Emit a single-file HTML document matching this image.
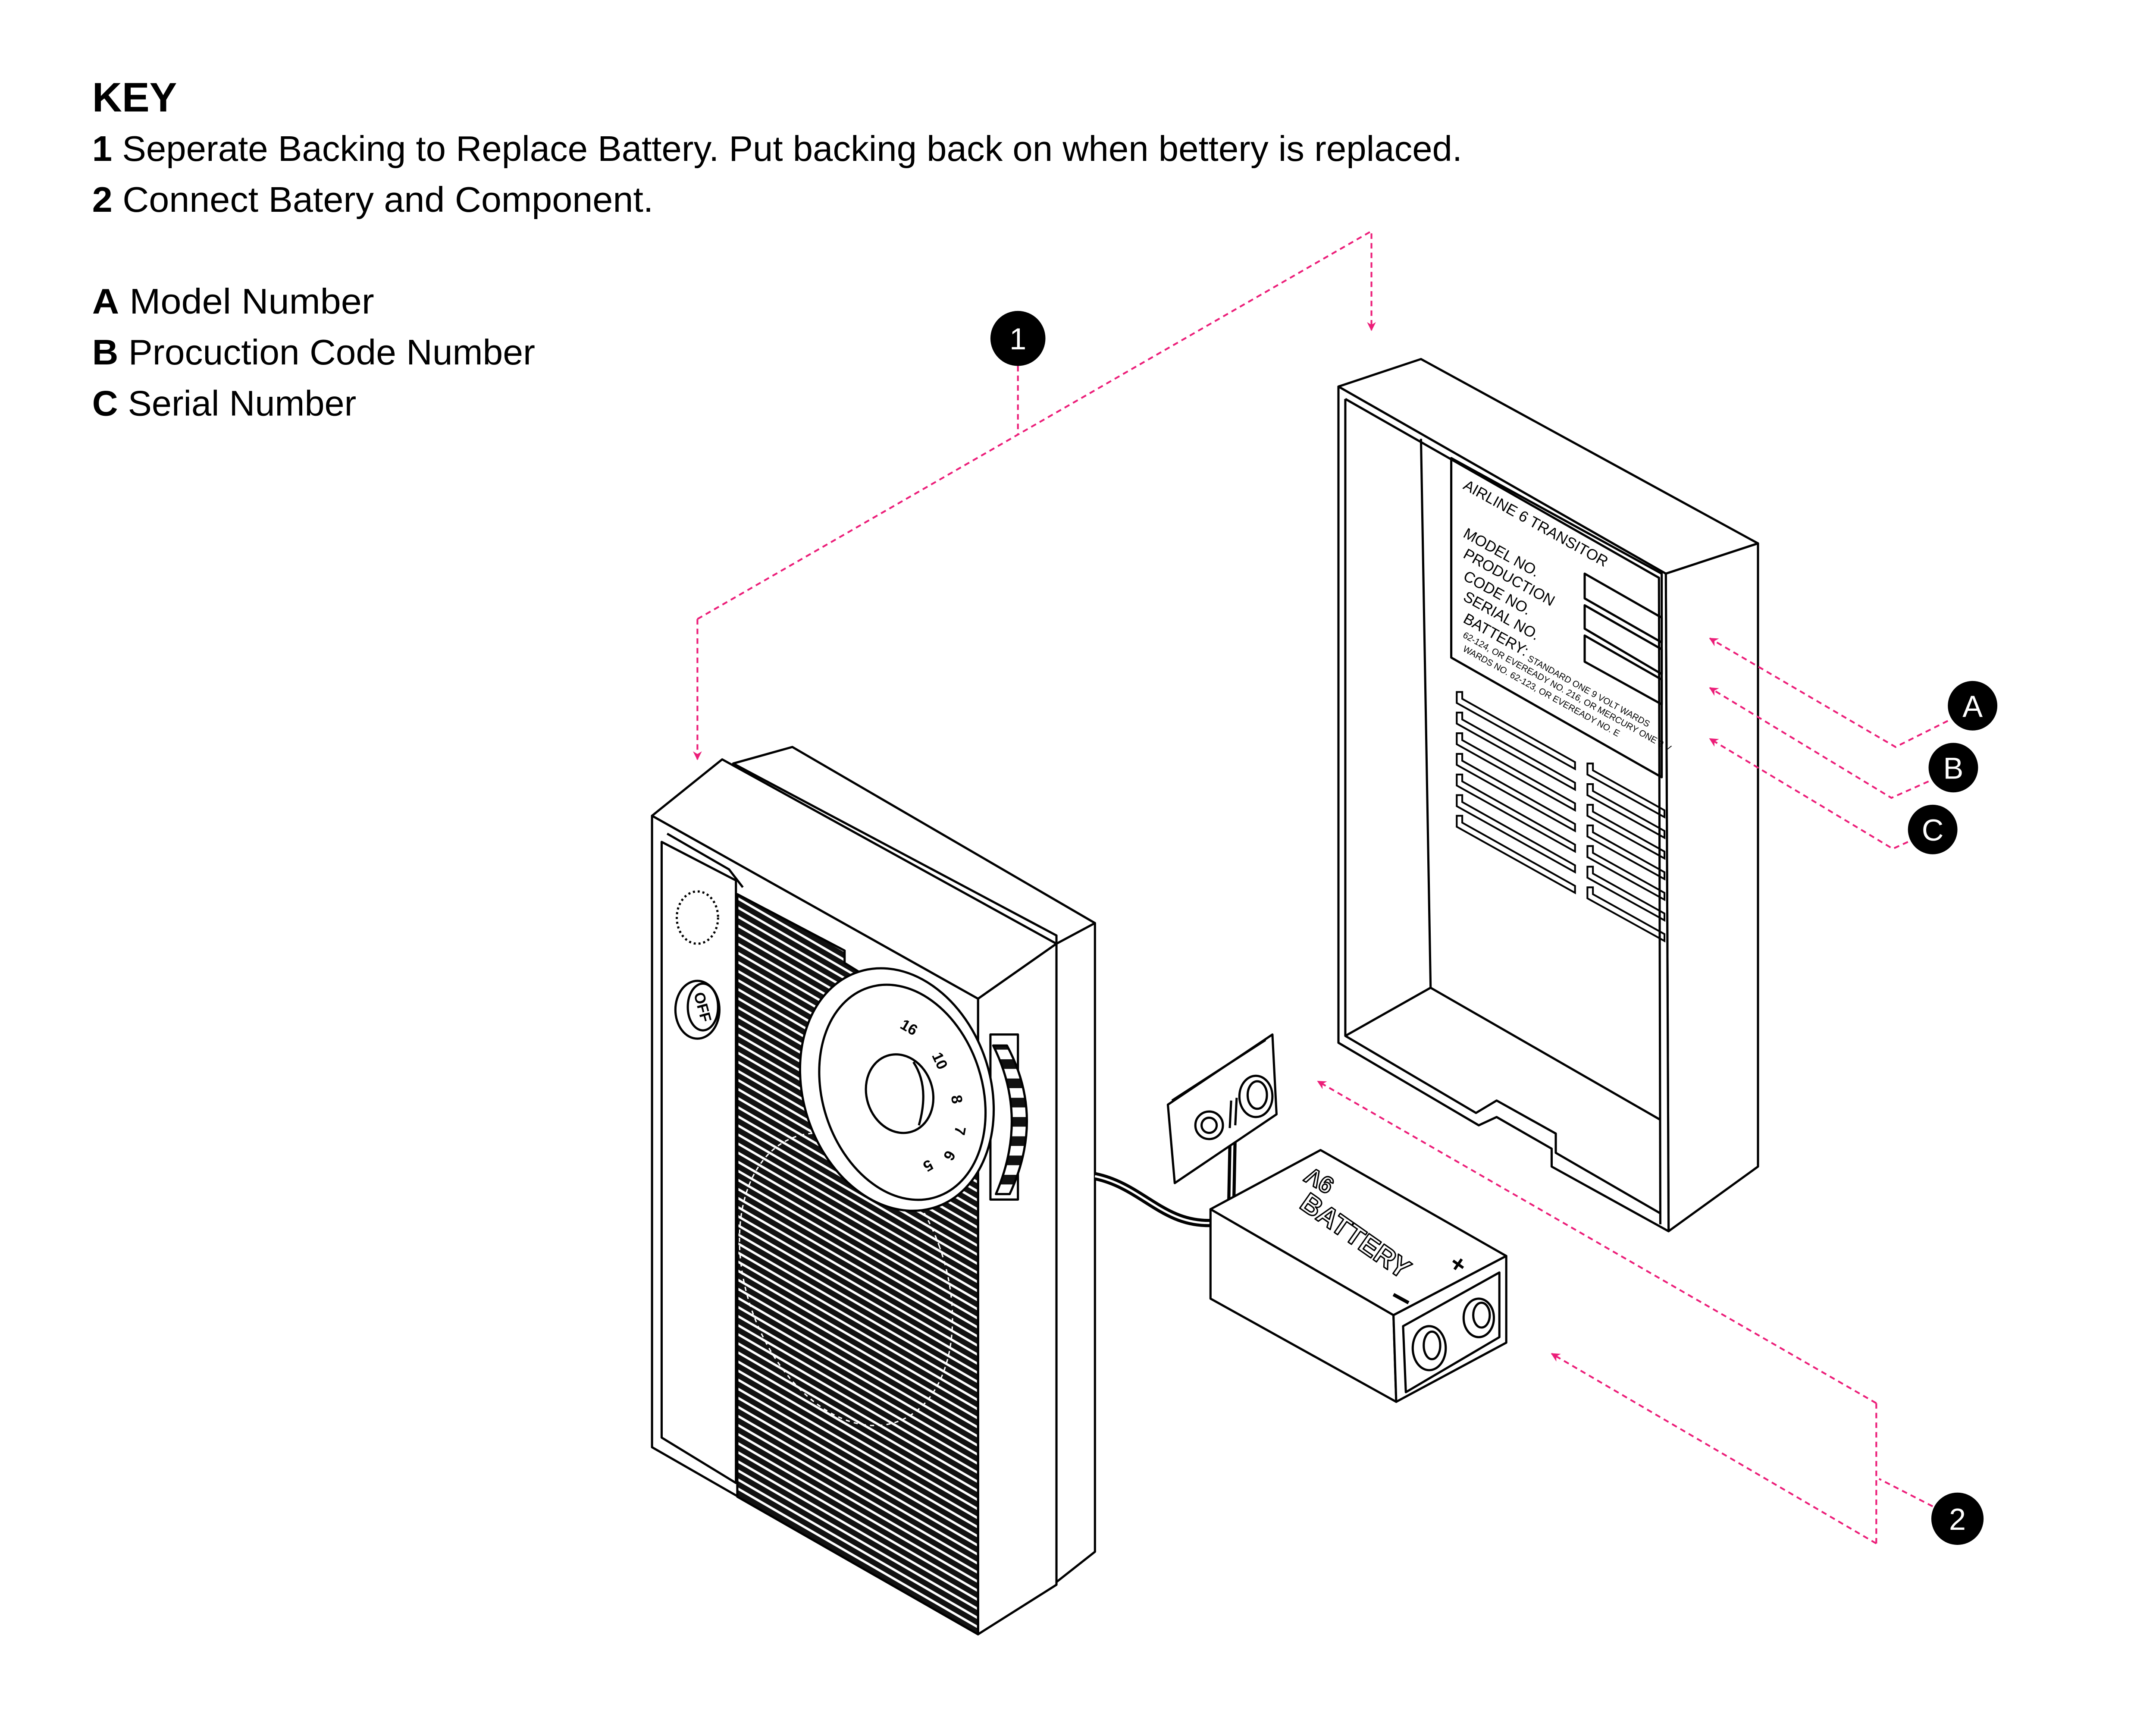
<!DOCTYPE html>
<html><head><meta charset="utf-8"><style>
html,body{margin:0;padding:0;background:#fff;}
svg{display:block;}
</style></head><body>
<svg width="5101" height="3988" viewBox="0 0 1599 1250.3" preserveAspectRatio="none" xmlns="http://www.w3.org/2000/svg" font-family="Liberation Sans, sans-serif">
<defs>
<pattern id="gr" patternUnits="userSpaceOnUse" width="40" height="6.6" patternTransform="skewY(30)">
<rect width="40" height="6.6" fill="#fff"/><rect y="1.2" width="40" height="4.6" fill="#111"/>
</pattern>
<pattern id="wh" patternUnits="userSpaceOnUse" width="30" height="14">
<rect width="30" height="14" fill="#fff"/><rect y="0" width="30" height="7" fill="#111"/>
</pattern>
<marker id="ar" viewBox="0 0 10 10" refX="9" refY="5" markerWidth="5" markerHeight="5" orient="auto"><path d="M0,0 L10,5 L0,10 L3,5 z" fill="#ec1e79"/></marker>
</defs>
<rect width="1599" height="1250.3" fill="#fff"/>

<g fill="#000">
<text x="67" y="81" font-size="30" font-weight="bold">KEY</text>
<text x="67" y="117" font-size="26" textLength="996" lengthAdjust="spacingAndGlyphs"><tspan font-weight="bold">1</tspan> Seperate Backing to Replace Battery. Put backing back on when bettery is replaced.</text>
<text x="67" y="154" font-size="26" textLength="408" lengthAdjust="spacingAndGlyphs"><tspan font-weight="bold">2</tspan> Connect Batery and Component.</text>
<text x="67" y="228" font-size="26" textLength="205" lengthAdjust="spacingAndGlyphs"><tspan font-weight="bold">A</tspan> Model Number</text>
<text x="67" y="265" font-size="26" textLength="322" lengthAdjust="spacingAndGlyphs"><tspan font-weight="bold">B</tspan> Procuction Code Number</text>
<text x="67" y="302" font-size="26" textLength="192" lengthAdjust="spacingAndGlyphs"><tspan font-weight="bold">C</tspan> Serial Number</text>
</g>

<g stroke="#000" stroke-width="1.6" fill="#fff" stroke-linejoin="round">
<polygon points="533,555 576,543 796,671 796,1128 768,1150 768,680"/>
<line x1="768" y1="686" x2="796" y2="671"/>
<polygon points="474,593 525,552 768,686 711,726"/>
<polygon points="711,726 768,686 768,1152 711,1188"/>
<polygon points="474,593 711,726 711,1188 474,1052"/>
<path d="M481,612 L481,1045 L535,1078 L535,640 Z" fill="none"/>
<path d="M485,606 L530,632 L540,645" fill="none"/>
<polygon points="536,650 614,691 614,700 711,760 711,1188 536,1088" fill="url(#gr)" stroke="#000"/>
<ellipse cx="615" cy="930" rx="72" ry="110" transform="rotate(-20 615 930)" fill="none" stroke="#fff" stroke-width="1" stroke-dasharray="3 3"/>
<ellipse cx="507" cy="667" rx="15" ry="19" fill="none" stroke-dasharray="1.5 2"/>
<ellipse cx="507" cy="734" rx="16" ry="21"/>
<ellipse cx="511" cy="732" rx="11" ry="17" fill="none"/>
<text x="511" y="736" font-size="11" font-weight="bold" fill="#000" stroke="none" text-anchor="middle" transform="rotate(75 511 732)">OFF</text>
<rect x="720" y="752" width="20" height="120" />
<path d="M722,760 Q748,812 724,868 L734,868 Q760,812 732,760 Z" fill="url(#wh)"/>
<ellipse cx="652" cy="792" rx="68" ry="90" transform="rotate(-18 652 792)"/>
<ellipse cx="656" cy="794" rx="58" ry="80" transform="rotate(-18 656 794)" fill="none"/>
<ellipse cx="654" cy="795" rx="24" ry="29" transform="rotate(-18 654 795)"/>
<path d="M664,772 Q676,790 668,818" fill="none"/>
<g fill="#000" stroke="none" font-size="11" font-weight="bold">
<text x="655" y="750" transform="rotate(30 660 746)">16</text>
<text x="678" y="774" transform="rotate(65 683 770)">10</text>
<text x="692" y="804" transform="rotate(80 696 800)">8</text>
<text x="694" y="827" transform="rotate(100 698 823)">7</text>
<text x="686" y="845" transform="rotate(120 690 841)">6</text>
<text x="670" y="852" transform="rotate(150 674 848)">5</text>
</g>
</g>

<g fill="none" stroke="#000">
<path d="M796,855 C830,862 845,890 880,889" stroke-width="6"/>
<path d="M796,855 C830,862 845,890 880,889" stroke-width="1.6" stroke="#fff"/>
<path d="M896,829 L895,880" stroke-width="6"/>
<path d="M896,829 L895,880" stroke-width="1.4" stroke="#fff"/>
</g>

<g stroke="#000" stroke-width="1.6" fill="#fff" stroke-linejoin="round">
<polygon points="849,803 925,752 928,810 854,860"/>
<path d="M852,800 L920,756" fill="none"/>
<circle cx="879" cy="818" r="10"/><circle cx="879" cy="818" r="5.5" fill="none"/>
<ellipse cx="913" cy="797" rx="12" ry="15"/><ellipse cx="914" cy="796" rx="7" ry="10" fill="none"/>
<line x1="895" y1="800" x2="894" y2="820"/><line x1="899" y1="798" x2="898" y2="818"/>
</g>

<g stroke="#000" stroke-width="1.6" fill="#fff" stroke-linejoin="round">
<polygon points="880,879 960,836 1095,913 1013,956"/>
<polygon points="880,879 1013,956 1015,1019 880,944"/>
<polygon points="1013,956 1095,913 1095,976 1015,1019"/>
<polygon points="1020,964 1090,925 1090,972 1022,1012" fill="none"/>
<ellipse cx="1039" cy="980" rx="12" ry="16"/><ellipse cx="1041" cy="978" rx="6" ry="10" fill="none"/>
<ellipse cx="1075" cy="958" rx="11" ry="14"/><ellipse cx="1077" cy="956" rx="6" ry="9" fill="none"/>
<g fill="#fff" stroke="#000" stroke-width="1" font-weight="bold">
<text x="940" y="862" font-size="17" transform="rotate(210 955 856)">9V</text>
<text x="985" y="905" font-size="20" text-anchor="middle" transform="rotate(35 985 899)">BATTERY</text>
</g>
<text x="1060" y="925" font-size="18" font-weight="bold" fill="#000" stroke="none" text-anchor="middle" transform="rotate(35 1060 919)">+</text>
<line x1="1013" y1="941" x2="1024" y2="947" stroke-width="2.5"/>
</g>

<g stroke="#000" stroke-width="1.6" fill="#fff" stroke-linejoin="round">
<polygon points="973,281 1033,261 1278,395 1211,417"/>
<polygon points="1211,417 1278,395 1278,848 1213,895"/>
<polygon points="973,281 1211,417 1213,895 1128,848 1128,835 1088,812 1075,818 973,758"/>
<path d="M978,290 L1206,420 L1207,890" fill="none"/>
<path d="M978,290 L978,753 L1073,809 L1088,800 L1131,824 L1131,838 L1207,882" fill="none"/>
<path d="M1033,319 L1040,718 L1207,814" fill="none"/>
<path d="M978,753 L1040,718" fill="none"/>
<polygon points="1055,333 1208,417 1208,565 1055,478" fill="none"/>
<polygon points="1152,417 1208,449 1208,467 1152,435" fill="none"/>
<polygon points="1152,440 1208,472 1208,490 1152,457" fill="none"/>
<polygon points="1152,462 1208,494 1208,512 1152,481" fill="none"/>
</g>
<g fill="#000" font-size="11">
<text x="1063" y="355" transform="rotate(29 1063 355)">AIRLINE 6 TRANSITOR</text>
<text x="1063" y="390" transform="rotate(29 1063 390)">MODEL NO.</text>
<text x="1063" y="405" transform="rotate(29 1063 405)">PRODUCTION</text>
<text x="1063" y="421" transform="rotate(29 1063 421)">CODE NO.</text>
<text x="1063" y="436" transform="rotate(29 1063 436)">SERIAL NO.</text>
<text x="1063" y="452" transform="rotate(29 1063 452)">BATTERY:</text>
<text x="1110" y="480" font-size="6.5" transform="rotate(29 1110 480)">STANDARD  ONE  9  VOLT  WARDS</text>
<text x="1063" y="463" font-size="6.5" transform="rotate(29 1063 463)">62-124, OR EVEREADY NO. 216, OR MERCURY ONE 9 V</text>
<text x="1063" y="473" font-size="6.5" transform="rotate(29 1063 473)">WARDS   NO.   62-123,   OR   EVEREADY   NO.   E</text>
</g>
<g stroke="#000" stroke-width="1.3" fill="none">
<path d="M1059,503 v8 l86,48 v-5 l-82,-46 v-5 z M1059,518 v8 l86,48 v-5 l-82,-46 v-5 z M1059,533 v8 l86,48 v-5 l-82,-46 v-5 z M1059,548 v8 l86,48 v-5 l-82,-46 v-5 z M1059,563 v8 l86,48 v-5 l-82,-46 v-5 z M1059,578 v8 l86,48 v-5 l-82,-46 v-5 z M1059,593 v8 l86,48 v-5 l-82,-46 v-5 z"/>
<path d="M1154,555 v8 l56,31 v-5 l-52,-29 v-5 z M1154,570 v8 l56,31 v-5 l-52,-29 v-5 z M1154,585 v8 l56,31 v-5 l-52,-29 v-5 z M1154,600 v8 l56,31 v-5 l-52,-29 v-5 z M1154,615 v8 l56,31 v-5 l-52,-29 v-5 z M1154,630 v8 l56,31 v-5 l-52,-29 v-5 z M1154,645 v8 l56,31 v-5 l-52,-29 v-5 z"/>
</g>

<g stroke="#ec1e79" stroke-width="1.3" fill="none" stroke-dasharray="4 3">
<path d="M740,266 L740,316"/>
<path d="M507,450 L997,168 L997,240" marker-end="url(#ar)"/>
<path d="M507,450 L507,552" marker-end="url(#ar)"/>
<path d="M1416,524 L1378,543 L1243,464" marker-end="url(#ar)"/>
<path d="M1402,568 L1375,580 L1243,500" marker-end="url(#ar)"/>
<path d="M1387,612 L1376,617 L1243,537" marker-end="url(#ar)"/>
<path d="M1405,1095 L1366,1075"/>
<path d="M1364,1020 L1364,1125"/>
<path d="M1364,1020 L958,786" marker-end="url(#ar)"/>
<path d="M1364,1122 L1128,984" marker-end="url(#ar)"/>
</g>

<g font-size="22" text-anchor="middle" fill="#fff">
<circle cx="740" cy="246" r="20" fill="#000"/><text x="740" y="254">1</text>
<circle cx="1434" cy="513" r="18" fill="#000"/><text x="1434" y="521">A</text>
<circle cx="1420" cy="558" r="18" fill="#000"/><text x="1420" y="566">B</text>
<circle cx="1405" cy="603" r="18" fill="#000"/><text x="1405" y="611">C</text>
<circle cx="1423" cy="1104" r="19" fill="#000"/><text x="1423" y="1112">2</text>
</g>
</svg>
</body></html>
